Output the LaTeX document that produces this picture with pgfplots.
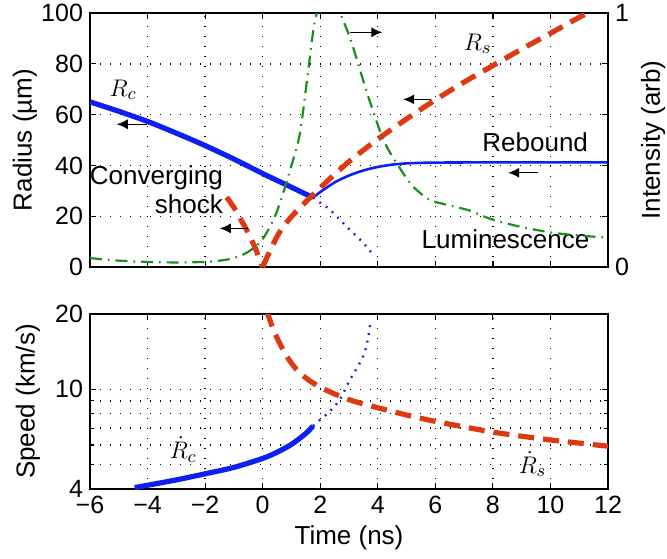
\documentclass[border=0pt]{standalone}
\usepackage{fontspec}
\setmainfont{Liberation Sans}
\usepackage{pgfplots}
\pgfplotsset{compat=1.18}
\usetikzlibrary{arrows.meta}

\definecolor{lineBlue}{HTML}{0D1FF2}
\definecolor{lineRed}{HTML}{DD3A14}
\definecolor{lineGreen}{HTML}{1E8C1E}

\newcommand{\txt}{\fontsize{13}{15}\selectfont}
\pgfplotsset{
  panel/.style={
    scale only axis, width=259pt,
    xmin=-6, xmax=12, xtick={-6,-4,...,12},
    tick align=inside, major tick length=3pt, minor tick length=2pt,
    tick style={black, line width=0.6pt},
    grid style={black, line width=0.7pt, dash pattern=on 0.7pt off 4.3pt},
    minor grid style={black, line width=0.7pt, dash pattern=on 0.7pt off 4.3pt},
    axis line style={black, line width=0.7pt},
    tick label style={font=\fontsize{12.5}{14}\selectfont},
    label style={font=\txt},
  },
}
\tikzset{
  ann/.style={-{Latex[length=5.5pt,width=5pt]}, black, line width=0.6pt},
  shockdash/.style={lineRed, line width=2.6pt, dash pattern=on 8pt off 4.5pt},
  dots/.style={lineBlue, line width=1.2pt, dash pattern=on 0.9pt off 3pt},
}

\begin{document}
\begin{tikzpicture}
\useasboundingbox (-45pt,-145.5pt) rectangle (288.5pt,133.5pt);
% top panel, radius
\begin{axis}[panel, name=top, at={(0,0)}, anchor=south west, height=127pt,
  ymin=0, ymax=100, ytick={0,20,...,100}, yticklabels={0,20,40,60,80,100},
  xticklabels={}, grid=major,
  ylabel={Radius (µm)},
  ylabel style={at={(axis description cs:-0.1255,0.5)}, anchor=center}]
% Rc
\addplot[lineBlue, line width=2.6pt, smooth] coordinates
  {(-6,65) (-5,61.3) (-4,57.3) (-3,52.7) (-2,47.8) (-1,42.5) (0,36.8) (1,31.4) (1.75,27.3)};
% rebound
\addplot[lineBlue, line width=1.3pt, smooth] coordinates
  {(1.75,27.3) (2,29.5) (2.5,33.3) (3,36) (3.5,38) (4,39.4) (4.5,40.3) (5,40.8) (5.5,41.0) (6,41.1) (8,41.2) (12,41.2)};
\addplot[dots] coordinates
  {(1.75,27.3) (2.3,23) (3,15) (3.5,9.5) (3.85,4.7)};
% converging shock
\addplot[shockdash] coordinates
  {(-1.25,27.5) (-1,23.5) (-0.5,13.5) (-0.25,7.3) (0,0)};
% Rs
\addplot[shockdash, smooth] coordinates
  {(0,0) (0.5,12) (1,19.8) (2,31.2) (3,41.5) (4,50.3) (5,58.3) (6,65.8) (7,72.8) (8,79.3) (9,85.8) (10,92) (11,98.3) (11.3,100)};
\node[anchor=base, font=\txt] at (axis cs:-4.85,67.3) {$R_c$};
\node[anchor=base, font=\txt] at (axis cs:7.47,85.4) {$R_s$};
\node[anchor=base, font=\txt] at (axis cs:9.47,45.4) {Rebound};
\node[anchor=base, font=\txt] at (axis cs:8.44,7.4) {Luminescence};
\node[anchor=base east, inner sep=0pt, font=\txt] at (axis cs:-1.37,32.6) {Converging};
\node[anchor=base east, inner sep=0pt, font=\txt] at (axis cs:-1.37,21.1) {shock};
\draw[ann] (axis cs:-4.03,56.2) -- (axis cs:-5.07,56.2);
\draw[ann] (axis cs:-0.5,15.2) -- (axis cs:-1.49,15.2);
\draw[ann] (axis cs:3.03,92.4) -- (axis cs:4.16,92.4);
\draw[ann] (axis cs:5.86,66) -- (axis cs:4.88,66);
\draw[ann] (axis cs:9.57,37.1) -- (axis cs:8.53,37.1);
\end{axis}

% top panel, intensity on the right
\begin{axis}[panel, at={(0,0)}, anchor=south west, height=127pt,
  axis x line=none, axis y line*=right,
  ymin=0, ymax=1, ytick={0,1}, yticklabels={0,1},
  ylabel={Intensity (arb)},
  ylabel style={at={(axis description cs:1.087,0.5)}, anchor=center}]
\addplot[lineGreen, line width=1.1pt, smooth, dash pattern=on 6pt off 3pt on 0.8pt off 3pt] coordinates
  {(-6,0.035) (-5,0.025) (-4,0.02) (-3,0.018) (-2,0.02) (-1.5,0.025) (-1,0.035)
   (-0.5,0.06) (0,0.11) (0.5,0.22) (1,0.4) (1.3,0.53) (1.6,0.79) (1.8,0.96)
   (2,1.03) (2.3,1.05) (2.6,1.02) (2.8,0.97) (3.1,0.88) (3.7,0.66) (4.2,0.5)
   (4.65,0.41) (5.2,0.32) (5.8,0.265) (6.4,0.245) (7.2,0.222) (7.9,0.19)
   (8.9,0.16) (10.2,0.133) (12,0.115)};
\end{axis}

% bottom panel, speed
\begin{axis}[panel, at={(0,-23.5pt)}, anchor=north west, height=87.5pt,
  ymode=log, ymin=4, ymax=20, ytick={4,10,20}, yticklabels={4,10,20},
  minor ytick={5,6,7,8,9},
  xticklabels={−6,−4,−2,0,2,4,6,8,10,12},
  xmajorgrids, ymajorgrids, yminorgrids,
  ylabel={Speed (km/s)}, xlabel={Time (ns)},
  ylabel style={at={(axis description cs:-0.12,0.5)}, anchor=center},
  xlabel style={at={(axis description cs:0.5,-0.28)}, anchor=center}]
\addplot[lineBlue, line width=2.6pt, smooth] coordinates
  {(-4.45,4.05) (-4,4.14) (-3,4.35) (-2,4.6) (-1,4.88) (0,5.3) (0.5,5.61) (1,6.03) (1.5,6.67) (1.75,7.14)};
\addplot[dots, smooth] coordinates
  {(1.75,7.14) (2.05,7.66) (2.33,8.16) (2.68,9.1) (3.03,10.9) (3.43,13.1) (3.6,14.8) (3.75,18.5)};
\addplot[shockdash, smooth] coordinates
  {(0.15,20.5) (0.4,17) (0.83,13.6) (1.3,11.6) (2,10.2) (3,9.1) (4,8.45) (5,7.9)
   (6,7.45) (7,7.08) (8,6.75) (9,6.5) (10,6.28) (11,6.1) (12,5.93)};
\node[anchor=base, font=\txt] at (axis cs:-2.76,5.3) {$\dot R_c$};
\node[anchor=base, font=\txt] at (axis cs:9.38,4.62) {$\dot R_s$};
\end{axis}
\end{tikzpicture}
\end{document}
